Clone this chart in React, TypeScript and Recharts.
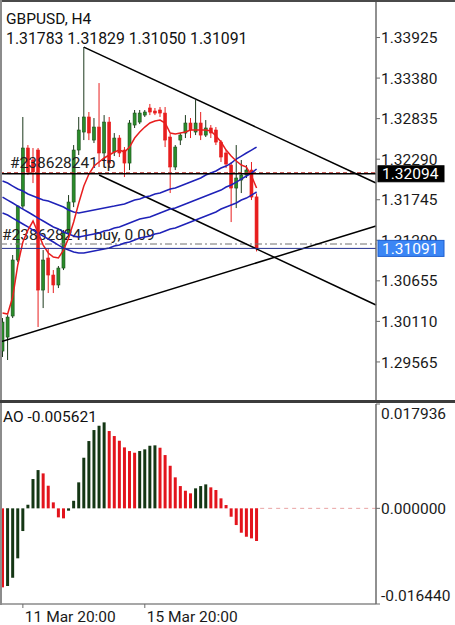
import React from 'react';
import { ComposedChart, Bar, Line, XAxis, YAxis, ReferenceLine, Cell } from 'recharts';

const FONT = "Roboto, 'Noto Sans', sans-serif";

const symbol = 'GBPUSD';
const timeframe = 'H4';
const orderTicket = '238628241';
const orderLots = 0.09;

const opens = [1.29711, 1.29899, 1.30182, 1.30935, 1.31660, 1.32440, 1.32279, 1.32413, 1.30531, 1.30962,
  1.30733, 1.30599, 1.30827, 1.31298, 1.31714, 1.32413, 1.32655, 1.32857, 1.32547, 1.32722,
  1.32373, 1.32789, 1.32386, 1.32574, 1.32413, 1.32238, 1.32749, 1.32789, 1.32883, 1.32978,
  1.32937, 1.32951, 1.32910, 1.32588, 1.32185, 1.32547, 1.32641, 1.32776, 1.32655, 1.32776,
  1.32614, 1.32709, 1.32682, 1.32520, 1.32373, 1.32211, 1.31902, 1.32010, 1.32077, 1.32144, 1.31783];
const highs = [1.30155, 1.30195, 1.31002, 1.31674, 1.32857, 1.32480, 1.32440, 1.32440, 1.31069, 1.31096,
  1.30800, 1.30854, 1.31338, 1.31808, 1.32480, 1.32857, 1.33797, 1.32924, 1.32843, 1.33313,
  1.32883, 1.32857, 1.32641, 1.32614, 1.32453, 1.32816, 1.32951, 1.32951, 1.32951, 1.33032,
  1.32978, 1.32991, 1.32991, 1.32628, 1.32480, 1.32641, 1.32883, 1.32843, 1.33085, 1.32924,
  1.32816, 1.32749, 1.32722, 1.32547, 1.32413, 1.32252, 1.32480, 1.32279, 1.32211, 1.32252, 1.31829];
const lows = [1.29631, 1.29591, 1.30155, 1.30908, 1.31620, 1.32077, 1.31969, 1.30034, 1.30289, 1.30491,
  1.30491, 1.30558, 1.30800, 1.31203, 1.31646, 1.32346, 1.32547, 1.32547, 1.32507, 1.32185,
  1.32279, 1.32171, 1.32332, 1.32319, 1.32050, 1.32144, 1.32709, 1.32762, 1.32857, 1.32883,
  1.32883, 1.32857, 1.32453, 1.31835, 1.32144, 1.32480, 1.32574, 1.32574, 1.32614, 1.32547,
  1.32588, 1.32574, 1.32480, 1.32252, 1.32171, 1.31445, 1.31633, 1.31835, 1.32037, 1.31741, 1.31050];
const closes = [1.30101, 1.30168, 1.30935, 1.31660, 1.32440, 1.32117, 1.32117, 1.30531, 1.30935, 1.30733,
  1.30599, 1.30827, 1.31298, 1.31714, 1.32413, 1.32682, 1.32857, 1.32642, 1.32722, 1.32373,
  1.32789, 1.32238, 1.32574, 1.32373, 1.32238, 1.32776, 1.32910, 1.32910, 1.32924, 1.32924,
  1.32910, 1.32910, 1.32547, 1.32185, 1.32453, 1.32614, 1.32776, 1.32682, 1.32776, 1.32614,
  1.32709, 1.32642, 1.32520, 1.32319, 1.32225, 1.31902, 1.32037, 1.32077, 1.32144, 1.31781, 1.31091];

const maFast = [1.30222, 1.30209, 1.30437, 1.30868, 1.31177, 1.31338, 1.31459, 1.31298, 1.31136, 1.31029,
  1.30975, 1.30962, 1.31069, 1.31231, 1.31446, 1.31701, 1.31929, 1.32091, 1.32198, 1.32252,
  1.32306, 1.32346, 1.32386, 1.32413, 1.32386, 1.32453, 1.32574, 1.32655, 1.32722, 1.32776,
  1.32803, 1.32816, 1.32776, 1.32641, 1.32628, 1.32641, 1.32655, 1.32682, 1.32682, 1.32682,
  1.32682, 1.32668, 1.32601, 1.32521, 1.32413, 1.32332, 1.32265, 1.32211, 1.32185, 1.32064, 1.31902];
const envUpper = [1.31996, 1.31970, 1.31929, 1.31889, 1.31862, 1.31822, 1.31795, 1.31768, 1.31741, 1.31728,
  1.31701, 1.31675, 1.31647, 1.31607, 1.31580, 1.31566, 1.31580, 1.31593, 1.31607, 1.31620,
  1.31633, 1.31647, 1.31660, 1.31675, 1.31687, 1.31714, 1.31741, 1.31754, 1.31781, 1.31795,
  1.31822, 1.31835, 1.31862, 1.31889, 1.31902, 1.31929, 1.31956, 1.31983, 1.32010, 1.32037,
  1.32077, 1.32104, 1.32131, 1.32171, 1.32198, 1.32238, 1.32292, 1.32332, 1.32373, 1.32413, 1.32453];
const envMid = [1.31781, 1.31741, 1.31701, 1.31660, 1.31620, 1.31580, 1.31540, 1.31499, 1.31459, 1.31419,
  1.31379, 1.31352, 1.31311, 1.31284, 1.31257, 1.31244, 1.31257, 1.31271, 1.31284, 1.31298,
  1.31325, 1.31338, 1.31365, 1.31379, 1.31405, 1.31432, 1.31459, 1.31486, 1.31499, 1.31513,
  1.31540, 1.31566, 1.31593, 1.31620, 1.31634, 1.31660, 1.31687, 1.31714, 1.31741, 1.31768,
  1.31795, 1.31822, 1.31849, 1.31875, 1.31916, 1.31943, 1.31983, 1.32023, 1.32064, 1.32104, 1.32158];
const envLower = [1.31566, 1.31540, 1.31499, 1.31459, 1.31419, 1.31379, 1.31338, 1.31298, 1.31257, 1.31217,
  1.31177, 1.31136, 1.31096, 1.31069, 1.31042, 1.31029, 1.31029, 1.31042, 1.31056, 1.31069,
  1.31083, 1.31096, 1.31123, 1.31136, 1.31163, 1.31177, 1.31204, 1.31231, 1.31244, 1.31257,
  1.31284, 1.31298, 1.31325, 1.31352, 1.31365, 1.31392, 1.31419, 1.31446, 1.31473, 1.31499,
  1.31526, 1.31553, 1.31580, 1.31620, 1.31647, 1.31674, 1.31701, 1.31741, 1.31768, 1.31808, 1.31849];

const aoValues = [-0.01358, -0.01336, -0.01193, -0.00859, -0.00390, 0.00062, 0.00504, 0.00658, 0.00601, 0.00389,
  0.00103, -0.00155, -0.00172, -0.00040, 0.00130, 0.00447, 0.00870, 0.01157, 0.01346, 0.01420,
  0.01478, 0.01329, 0.01243, 0.01162, 0.01048, 0.00985, 0.00956, 0.00985, 0.01014, 0.01076,
  0.01083, 0.01042, 0.00916, 0.00732, 0.00533, 0.00383, 0.00303, 0.00258, 0.00344, 0.00383,
  0.00412, 0.00361, 0.00315, 0.00172, 0.00057, -0.00144, -0.00287, -0.00419, -0.00488, -0.00516, -0.005621];

const priceTicks = [1.29565, 1.30110, 1.30655, 1.31200, 1.31745, 1.32290, 1.32835, 1.33380, 1.33925];
const priceDomain = [1.29040, 1.34416];
const aoTicks = [0.017936, 0, -0.016440];
const aoDomain = [-0.016440, 0.017936];
const xTickIndex = [4, 28];
const xTickLabels = ['11 Mar 20:00', '15 Mar 20:00'];

const tpLevel = 1.32108;
const hLevel = 1.32094;
const buyLevel = 1.31150;

// trend lines: [barIndex, price] anchors
const trendLines = [
  [[16, 1.33797], [73.5, 1.31970]],
  [[19, 1.32077], [73.5, 1.30330]],
  [[-0.5, 1.29833], [73.5, 1.31392]],
];

const SLOTS = 74;
const N = closes.length;
const lastClose = closes[N - 1];
const rows = Array.from({ length: SLOTS }, (_, i) =>
  i < N
    ? {
        i,
        o: opens[i], h: highs[i], l: lows[i], c: closes[i],
        range: [lows[i], highs[i]],
        ma: maFast[i], eu: envUpper[i], em: envMid[i], el: envLower[i],
        ao: aoValues[i],
      }
    : { i }
);

const GREEN = '#2a8c2a';
const GREEN_EDGE = '#1b4d1b';
const WICK_UP = '#1d3a1d';
const RED = '#e81e1e';
const AO_UP = '#143614';
const AO_DN = '#e3141c';
const BLUE = '#1f22b8';
const AXIS = '#6b6b6b';

// price labels drawn on the axis (after the regular ticks so they sit on top)
const axisBoxes = [
  { value: hLevel, fill: '#000000', edge: '#000000' },
  { value: lastClose, fill: '#3b86f5', edge: '#1f5fcf' },
];
const allPriceTicks = [...priceTicks, ...axisBoxes.map((b) => b.value)];

const Candle = (p: any) => {
  const { x, y, width, height, payload } = p;
  if (!payload || payload.o == null) return null;
  const { o, h, l, c } = payload;
  const top = Math.min(y, y + height);
  const hh = Math.abs(height);
  const k = h - l > 0 ? hh / (h - l) : 0;
  const cx = x + width / 2;
  const yO = top + (h - o) * k;
  const yC = top + (h - c) * k;
  const rising = c >= o;
  const bTop = Math.min(yO, yC);
  const bH = Math.max(1, Math.abs(yO - yC));
  return (
    <g>
      <line x1={cx} x2={cx} y1={top} y2={top + hh} stroke={rising ? WICK_UP : RED} strokeWidth={1} />
      <rect x={cx - 1.5} y={bTop} width={3} height={bH} fill={rising ? GREEN : RED} stroke={rising ? GREEN_EDGE : RED} strokeWidth={0.6} />
    </g>
  );
};

const PriceTick = (p: any) => {
  const { x, y, payload } = p;
  const v = Number(payload.value);
  const box = axisBoxes.find((b) => b.value === v);
  if (box) {
    return (
      <g>
        <rect x={x + 2} y={y - 8} width={66} height={16} fill={box.fill} stroke={box.edge} strokeWidth={1} />
        <text x={x + 6} y={y} dy="0.36em" fontSize={15.5} fontFamily={FONT} fill="#fff">
          {v.toFixed(5)}
        </text>
      </g>
    );
  }
  return (
    <g>
      <line x1={x} x2={x + 4} y1={y} y2={y} stroke={AXIS} strokeWidth={1} />
      <text x={x + 5} y={y} dy="0.36em" fontSize={15.5} fontFamily={FONT} fill="#1a1a1a">
        {v.toFixed(5)}
      </text>
    </g>
  );
};

const AoTick = (p: any) => {
  const { x, y, payload } = p;
  const ty = Math.min(Math.max(y, 11), 193);
  return (
    <g>
      <line x1={x} x2={x + 4} y1={y} y2={y} stroke={AXIS} strokeWidth={1} />
      <text x={x + 5} y={ty} dy="0.36em" fontSize={15.5} fontFamily={FONT} fill="#1a1a1a">
        {Number(payload.value).toFixed(6)}
      </text>
    </g>
  );
};

const TimeTick = (p: any) => {
  const { x, y, payload } = p;
  const k = xTickIndex.indexOf(Number(payload.value));
  if (k < 0) return null;
  return (
    <g>
      <line x1={x} x2={x} y1={y} y2={y + 4} stroke={AXIS} strokeWidth={1} />
      <text x={x + 2} y={y + 12} dy="0.36em" fontSize={15.5} fontFamily={FONT} fill="#1a1a1a">
        {xTickLabels[k]}
      </text>
    </g>
  );
};

const ends = (p: any) => ({
  xl: Math.min(p.x1, p.x2),
  xr: Math.max(p.x1, p.x2),
  y: p.y1,
});

export default function App() {
  const header = `${opens[N - 1].toFixed(5)} ${highs[N - 1].toFixed(5)} ${lows[N - 1].toFixed(5)} ${closes[N - 1].toFixed(5)}`;
  return (
    <div style={{ position: 'absolute', left: 0, top: 0, width: 455, height: 625, background: '#fff', overflow: 'hidden' }}>
      <div style={{ position: 'absolute', left: 0, top: 0 }}>
        <ComposedChart width={455} height={402} data={rows} margin={{ top: 1, right: 0, bottom: 1, left: 0 }}>
          <XAxis dataKey="i" type="category" hide />
          <XAxis xAxisId="n" dataKey="i" type="number" domain={[-0.5, 73.5]} allowDataOverflow hide />
          <YAxis
            orientation="right"
            width={79}
            type="number"
            domain={priceDomain}
            allowDataOverflow
            ticks={allPriceTicks}
            interval={0}
            tick={(p: any) => <PriceTick {...p} />}
            tickLine={false}
            tickSize={0}
            tickMargin={0}
            axisLine={{ stroke: AXIS, strokeWidth: 1.5 }}
          />
          <ReferenceLine
            y={tpLevel}
            ifOverflow="visible"
            shape={(p: any) => {
              const { xl, xr, y } = ends(p);
              return (
                <g>
                  <line x1={xl} x2={xr} y1={y} y2={y} stroke="#b8322c" strokeWidth={1} strokeDasharray="4 3" />
                  <text x={xl + 10} y={y - 4.5} fontSize={15.5} fontFamily={FONT} fill="#222">{`#${orderTicket} tp`}</text>
                </g>
              );
            }}
          />
          <ReferenceLine
            y={buyLevel}
            ifOverflow="visible"
            shape={(p: any) => {
              const { xl, xr, y } = ends(p);
              return (
                <g>
                  <line x1={xl} x2={xr} y1={y} y2={y} stroke="#707070" strokeWidth={1} strokeDasharray="7 3 2 3" />
                  <text x={xl + 2} y={y - 4} fontSize={15.5} fontFamily={FONT} fill="#222">{`#${orderTicket} buy, ${orderLots.toFixed(2)}`}</text>
                </g>
              );
            }}
          />
          {trendLines.map((t, k) => (
            <ReferenceLine
              key={k}
              xAxisId="n"
              ifOverflow="visible"
              segment={[{ x: t[0][0], y: t[0][1] }, { x: t[1][0], y: t[1][1] }]}
              stroke="#000"
              strokeWidth={1.5}
            />
          ))}
          <Bar dataKey="range" barSize={3} isAnimationActive={false} shape={(p: any) => <Candle {...p} />} />
          <Line dataKey="eu" stroke={BLUE} strokeWidth={1.5} dot={false} activeDot={false} isAnimationActive={false} />
          <Line dataKey="em" stroke={BLUE} strokeWidth={1.5} dot={false} activeDot={false} isAnimationActive={false} />
          <Line dataKey="el" stroke={BLUE} strokeWidth={1.5} dot={false} activeDot={false} isAnimationActive={false} />
          <Line dataKey="ma" stroke={RED} strokeWidth={1.5} dot={false} activeDot={false} isAnimationActive={false} />
          <ReferenceLine y={hLevel} ifOverflow="visible" stroke="#000" strokeWidth={1.6} />
          <ReferenceLine y={lastClose} ifOverflow="visible" stroke="#23308f" strokeWidth={1} />
        </ComposedChart>
      </div>
      <div style={{ position: 'absolute', left: 0, top: 402 }}>
        <ComposedChart width={455} height={223} data={rows} margin={{ top: 2, right: 0, bottom: 0, left: 0 }}>
          <XAxis
            dataKey="i"
            type="category"
            ticks={xTickIndex}
            interval={0}
            tick={(p: any) => <TimeTick {...p} />}
            tickLine={false}
            tickSize={0}
            tickMargin={0}
            height={21}
            axisLine={{ stroke: '#8a8a8a', strokeWidth: 1.5 }}
          />
          <XAxis xAxisId="n" dataKey="i" type="number" domain={[-0.5, 73.5]} allowDataOverflow hide />
          <YAxis
            orientation="right"
            width={79}
            type="number"
            domain={aoDomain}
            allowDataOverflow
            ticks={aoTicks}
            interval={0}
            tick={(p: any) => <AoTick {...p} />}
            tickLine={false}
            tickSize={0}
            tickMargin={0}
            axisLine={{ stroke: AXIS, strokeWidth: 1.5 }}
          />
          <ReferenceLine
            xAxisId="n"
            ifOverflow="visible"
            segment={[{ x: N - 0.3, y: 0 }, { x: 73.5, y: 0 }]}
            stroke="#e9a3a3"
            strokeWidth={1}
            strokeDasharray="4 4"
          />
          <Bar dataKey="ao" barSize={3} isAnimationActive={false}>
            {rows.map((r: any, i) => (
              <Cell
                key={i}
                fill={r.ao == null ? 'none' : i > 0 && r.ao > aoValues[i - 1] ? AO_UP : AO_DN}
              />
            ))}
          </Bar>
        </ComposedChart>
      </div>
      <div style={{ position: 'absolute', left: 0, top: 0, width: 455, height: 2, background: '#4a4a4a' }} />
      <div style={{ position: 'absolute', left: 0, top: 0, width: 2, height: 605, background: '#8c8c8c' }} />
      <div style={{ position: 'absolute', left: 0, top: 400, width: 455, height: 3, background: '#3c3c3c' }} />
      <svg width={455} height={625} style={{ position: 'absolute', left: 0, top: 0, pointerEvents: 'none' }}>
        <text x={6} y={24} fontSize={15.5} fontFamily={FONT} fill="#111">{`${symbol}, ${timeframe}`}</text>
        <text x={6} y={44} fontSize={15.8} fontFamily={FONT} fill="#111">{header}</text>
        <text x={3} y={422} fontSize={15.5} fontFamily={FONT} fill="#111">{`AO ${aoValues[N - 1].toFixed(6)}`}</text>
      </svg>
    </div>
  );
}
